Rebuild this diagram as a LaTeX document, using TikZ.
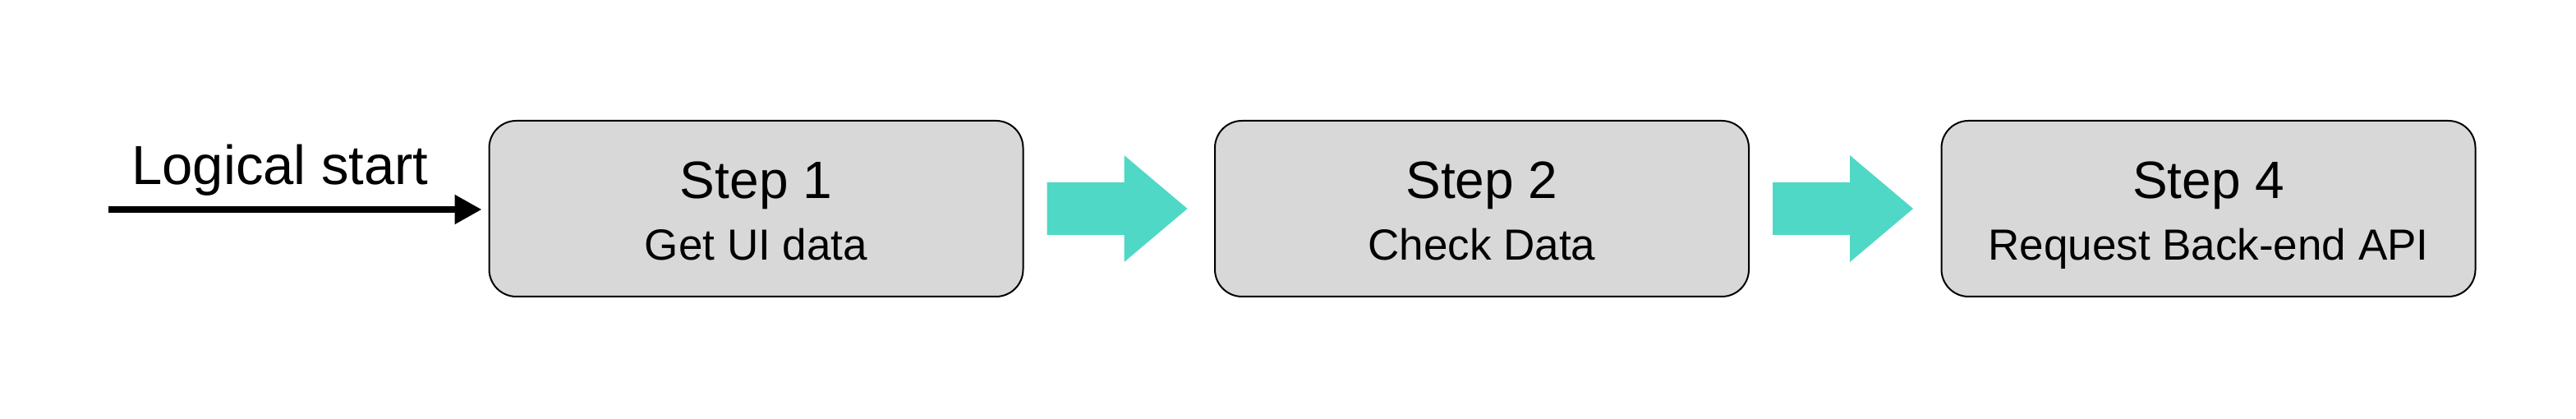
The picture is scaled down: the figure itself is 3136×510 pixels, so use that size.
\documentclass[tikz,border=0pt]{standalone}
\usepackage{fontspec}
\setmainfont{Liberation Sans}
\usetikzlibrary{arrows.meta,calc}
\definecolor{boxgray}{HTML}{D8D8D8}
\definecolor{tealc}{HTML}{50D8C6}
\begin{document}
\begin{tikzpicture}[x=0.25pt,y=-0.25pt,
  stepbox/.style={draw=black,line width=0.5pt,fill=boxgray,rounded corners=8.25pt,
    minimum width=162.5pt,minimum height=53.5pt,inner sep=0pt,outer sep=0pt},
  steptitle/.style={anchor=base,inner sep=0pt,font=\fontsize{16pt}{19pt}\selectfont},
  stepsub/.style={anchor=base,inner sep=0pt,font=\fontsize{13.25pt}{16pt}\selectfont},
  starttext/.style={anchor=base,inner sep=0pt,font=\fontsize{16.75pt}{20pt}\selectfont},
  blockarrow/.style={fill=tealc,draw=none},
  startarrow/.style={line width=2pt,-{Triangle[length=8.25pt,width=8.5pt]},shorten >=2.25pt}]
\useasboundingbox (0,0) rectangle (3136,510);
% boxes
\node[stepbox] (b1) at (920.5,254) {};
\node[stepbox] (b2) at (1804,254) {};
\node[stepbox] (b3) at (2688.5,254) {};
% texts
\node[steptitle] (t1) at (920.5,242) {Step 1};
\node[stepsub] (s1) at (920.5,317) {Get UI data};
\node[steptitle] (t2) at (1804,242) {Step 2};
\node[stepsub] (s2) at (1804,317) {Check Data};
\node[steptitle] (t3) at (2688.5,242) {Step 4};
\node[stepsub] (s3) at (2688.5,317) {Request Back-end API};
\node[starttext] (ls) at (341,225) {Logical start};
% start arrow
\coordinate (st) at (132,255);
\draw[startarrow] (st) -- (st -| b1.west);
% block arrows
\fill[blockarrow] ($(b1.east)+(29,-32)$) -- ++(94,0) -- ++(0,-33) -- ++(77,65)
  -- ++(-77,65) -- ++(0,-33) -- ++(-94,0) -- cycle;
\fill[blockarrow] ($(b2.east)+(29,-32)$) -- ++(94,0) -- ++(0,-33) -- ++(77,65)
  -- ++(-77,65) -- ++(0,-33) -- ++(-94,0) -- cycle;
\end{tikzpicture}
\end{document}
